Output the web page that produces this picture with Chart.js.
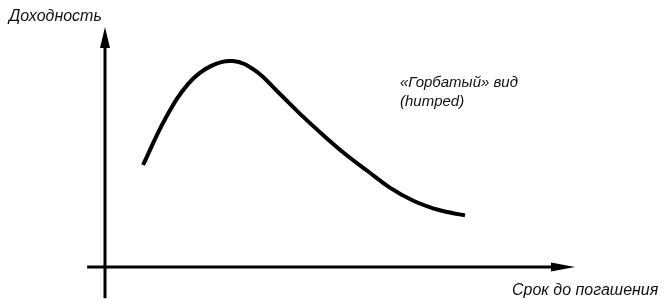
<!DOCTYPE html>
<html lang="ru">
<head>
    <meta charset="UTF-8" />
    <title>Горбатый вид кривой доходности</title>
    <script src="https://cdn.jsdelivr.net/npm/chart.js@4.4.1/dist/chart.umd.min.js"></script>
    <style>
        body { margin: 0; background: #ffffff; }
        #wrap { position: relative; width: 667px; height: 301px; }
    </style>
</head>
<body>
    <div id="wrap"><canvas id="chart"></canvas></div>

    <script>
        // === Data (arbitrary units) ===
        const maturity = [0.81, 1.28, 1.77, 2.23, 2.72, 3.19, 3.68, 4.15,
                          4.64, 5.11, 5.60, 6.06, 6.55, 7.02, 7.34, 7.66];
        const yieldValues = [4.25, 6.17, 7.63, 8.35, 8.58, 8.19, 7.29, 6.38,
                             5.50, 4.71, 3.98, 3.31, 2.77, 2.42, 2.27, 2.15];

        const yTitle = "Доходность";
        const xTitle = "Срок до погашения";
        const noteLines = ["«Горбатый» вид", "(humped)"];

        // axis extents in data units (the axes cross at 0,0)
        const xAxisFrom = -0.38, xAxisTo = 10;
        const yAxisFrom = -1.3, yAxisTo = 10;

        const points = maturity.map((m, i) => ({ x: m, y: yieldValues[i] }));

        // === Axes with arrows + labels ===
        const arrowAxes = {
            id: "arrowAxes",
            beforeDatasetsDraw(chart) {
                const { ctx, scales: { x, y } } = chart;
                const x0 = x.getPixelForValue(0), y0 = y.getPixelForValue(0);
                ctx.save();
                ctx.strokeStyle = "#000";
                ctx.fillStyle = "#000";
                ctx.lineWidth = 3;

                // y axis
                const yTop = y.getPixelForValue(yAxisTo);
                ctx.beginPath();
                ctx.moveTo(x0, y.getPixelForValue(yAxisFrom));
                ctx.lineTo(x0, yTop + 18);
                ctx.stroke();
                ctx.beginPath();
                ctx.moveTo(x0, yTop);
                ctx.lineTo(x0 - 5, yTop + 21);
                ctx.lineTo(x0 + 5, yTop + 21);
                ctx.closePath();
                ctx.fill();

                // x axis
                const xEnd = x.getPixelForValue(xAxisTo);
                ctx.beginPath();
                ctx.moveTo(x.getPixelForValue(xAxisFrom), y0);
                ctx.lineTo(xEnd - 20, y0);
                ctx.stroke();
                ctx.beginPath();
                ctx.moveTo(xEnd, y0);
                ctx.lineTo(xEnd - 24, y0 - 4.5);
                ctx.lineTo(xEnd - 24, y0 + 4.5);
                ctx.closePath();
                ctx.fill();

                // texts
                ctx.fillStyle = "#111";
                ctx.font = "italic 16px 'Liberation Sans', Arial, sans-serif";
                ctx.textBaseline = "alphabetic";
                ctx.fillText(yTitle, 9, 21);
                ctx.fillText(xTitle, 512, 295);
                ctx.font = "italic 15px 'Liberation Sans', Arial, sans-serif";
                ctx.fillText(noteLines[0], 400, 87);
                ctx.fillText(noteLines[1], 400, 106);
                ctx.restore();
            }
        };

        new Chart(document.getElementById("chart"), {
            type: "line",
            data: {
                datasets: [{
                    data: points,
                    borderColor: "#000",
                    borderWidth: 4,
                    borderCapStyle: "butt",
                    pointRadius: 0,
                    fill: false,
                    tension: 0.4
                }]
            },
            options: {
                responsive: true,
                maintainAspectRatio: false,
                animation: false,
                layout: { padding: { left: 105, right: 92, top: 27, bottom: 34 } },
                scales: {
                    x: { type: "linear", min: 0, max: 10, display: false },
                    y: { type: "linear", min: 0, max: 10, display: false }
                },
                plugins: {
                    legend: { display: false },
                    tooltip: { enabled: false }
                }
            },
            plugins: [arrowAxes]
        });
    </script>
</body>
</html>
